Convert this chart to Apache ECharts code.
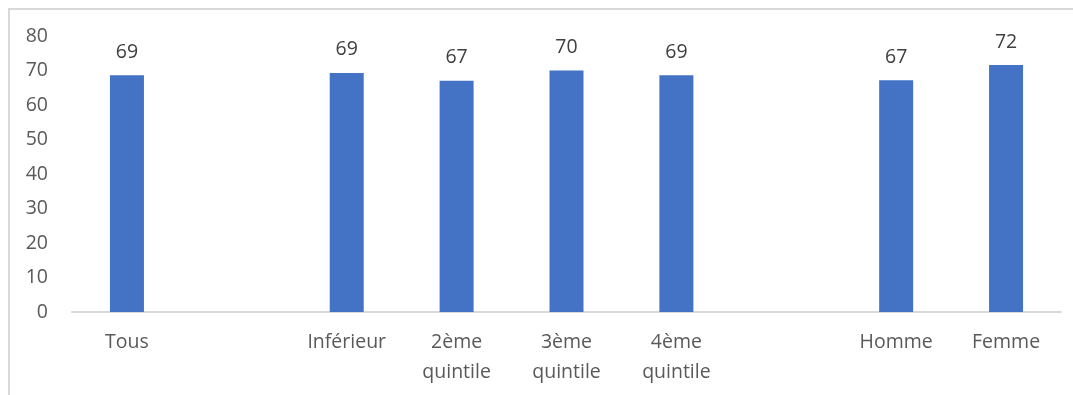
<!DOCTYPE html>
<html>
<head>
<meta charset="utf-8">
<script src="https://cdn.jsdelivr.net/npm/echarts@6/dist/echarts.min.js"></script>
<style>
  html, body { margin: 0; padding: 0; background: #fff; }
  #chart { width: 1073px; height: 395px; }
</style>
</head>
<body>
<div id="chart"></div>
<script>
// catégories (les vides séparent les groupes)
var categories = ['Tous', '', 'Inférieur', '2ème\nquintile', '3ème\nquintile', '4ème\nquintile', '', 'Homme', 'Femme'];
var values = [68.6, null, 69.3, 67.0, 70.0, 68.6, null, 67.2, 71.6];
var yTicks = [0, 10, 20, 30, 40, 50, 60, 70, 80];

var myChart = echarts.init(document.getElementById('chart'));

var font = '"Open Sans", "Noto Sans", sans-serif';

var option = {
  animation: false,
  textStyle: { fontFamily: font },
  graphic: [
    { type: 'line', shape: { x1: 8, y1: 9, x2: 1073, y2: 9 }, style: { stroke: '#d9d9d9', lineWidth: 2 } },
    { type: 'line', shape: { x1: 9, y1: 8, x2: 9, y2: 395 }, style: { stroke: '#d9d9d9', lineWidth: 2 } }
  ],
  grid: {
    left: 72,
    right: 12,
    top: 36,
    bottom: 83
  },
  xAxis: {
    type: 'category',
    data: categories,
    axisLine: { lineStyle: { color: '#d9d9d9', width: 2 } },
    axisTick: { show: false },
    axisLabel: {
      color: '#595959',
      fontSize: 19.5,
      fontFamily: font,
      lineHeight: 30,
      margin: 15,
      interval: 0
    }
  },
  yAxis: {
    type: 'value',
    min: yTicks[0],
    max: yTicks[yTicks.length - 1],
    interval: 10,
    axisLine: { show: false },
    axisTick: { show: false },
    splitLine: { show: false },
    axisLabel: {
      color: '#595959',
      fontSize: 19.5,
      fontFamily: font,
      margin: 24
    }
  },
  series: [
    {
      type: 'bar',
      data: values,
      barWidth: 34,
      itemStyle: { color: '#4472c4' },
      label: {
        show: true,
        position: 'top',
        distance: 13,
        color: '#404040',
        fontSize: 19.5,
        fontFamily: font,
        formatter: function (p) { return Math.round(p.value); }
      }
    }
  ]
};

myChart.setOption(option);
</script>
</body>
</html>
